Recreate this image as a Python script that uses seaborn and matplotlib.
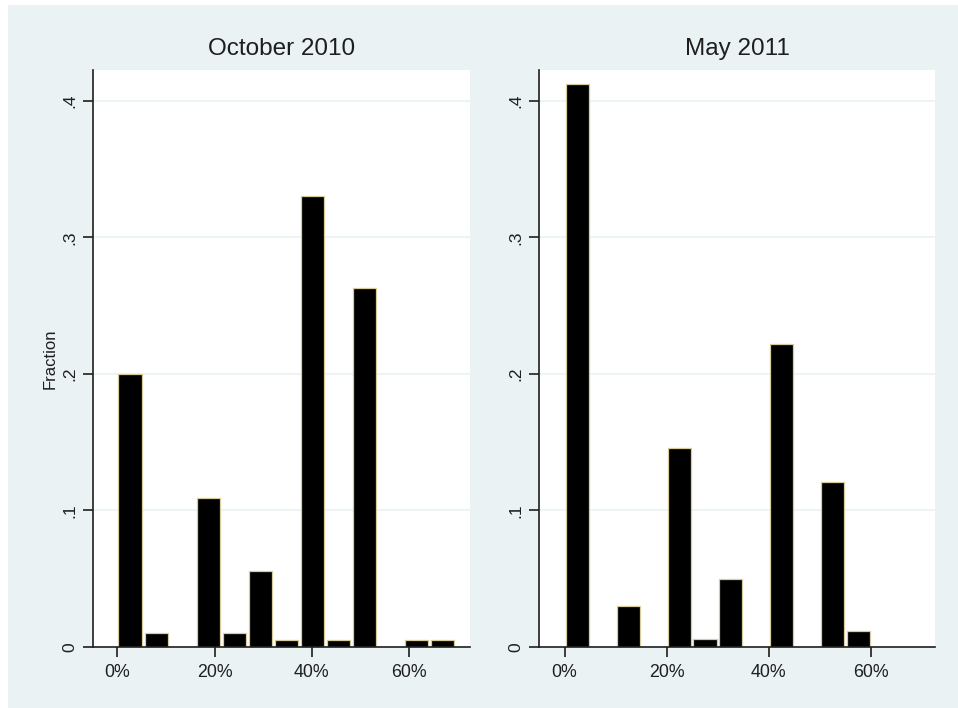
#!/usr/bin/env python3
"""Fraction histograms for October 2010 and May 2011, drawn in a Stata-like style."""

import matplotlib

matplotlib.use("Agg")

import matplotlib.pyplot as plt
import numpy as np
import pandas as pd
import seaborn as sns
from matplotlib.patches import Rectangle
from matplotlib.ticker import FuncFormatter


# October 2010: 13 bins of width 5.35 percentage points starting at 0%
OCT_BIN_WIDTH = 5.35
OCT_FRACTIONS = [0.200, 0.010, 0.0, 0.109, 0.010, 0.056, 0.005,
                 0.330, 0.005, 0.263, 0.0, 0.005, 0.005]

# May 2011: 12 bins of width 5 percentage points starting at 0%
MAY_BIN_WIDTH = 5.0
MAY_FRACTIONS = [0.412, 0.0, 0.030, 0.0, 0.146, 0.006,
                 0.050, 0.0, 0.222, 0.0, 0.1205, 0.012]

PANEL_TITLES = ["October 2010", "May 2011"]
X_TICKS = [0, 20, 40, 60]
X_TICK_LABELS = ["0%", "20%", "40%", "60%"]
Y_TICKS = [0, 0.1, 0.2, 0.3, 0.4]

BG_COLOR = "#EAF2F3"
AXIS_COLOR = "#1f1f1f"
EDGE_COLOR = "#d9cc9c"


def y_label_format(value, _pos):
    if abs(value) < 1e-9:
        return "0"
    return f"{value:.1f}".lstrip("0")


def draw_panel(ax, fractions, bin_width, title, show_ylabel):
    n_bins = len(fractions)
    edges = (np.arange(n_bins + 1) * bin_width).tolist()
    bins_df = pd.DataFrame({
        "center": [edge + bin_width / 2 for edge in edges[:-1]],
        "fraction": fractions,
    })

    sns.histplot(
        data=bins_df,
        x="center",
        weights="fraction",
        bins=edges,
        stat="count",
        shrink=0.91,
        color="black",
        edgecolor=EDGE_COLOR,
        linewidth=0.9,
        alpha=1,
        ax=ax,
    )
    # drop empty bins so they leave no outline on the axis
    for patch in list(ax.patches):
        if patch.get_height() <= 0:
            patch.remove()

    ax.set_xlim(-5, 72.5)
    ax.set_ylim(0, 0.4226)
    ax.set_facecolor("white")

    ax.set_xticks(X_TICKS)
    ax.set_xticklabels(X_TICK_LABELS, fontsize=12.8, color=AXIS_COLOR)
    ax.set_yticks(Y_TICKS)
    ax.yaxis.set_major_formatter(FuncFormatter(y_label_format))
    for label in ax.get_yticklabels():
        label.set_rotation(90)
        label.set_va("center")
        label.set_fontsize(12.5)
        label.set_color(AXIS_COLOR)

    ax.tick_params(axis="both", which="major", direction="out", length=7,
                   width=1.2, color=AXIS_COLOR, bottom=True, left=True)
    ax.tick_params(axis="x", pad=5)
    ax.tick_params(axis="y", pad=4)

    ax.grid(axis="y", color=BG_COLOR, linewidth=1.2)
    ax.grid(axis="x", visible=False)
    ax.set_axisbelow(True)

    for side in ("top", "right"):
        ax.spines[side].set_visible(False)
    for side in ("left", "bottom"):
        ax.spines[side].set_color(AXIS_COLOR)
        ax.spines[side].set_linewidth(1.2)

    ax.set_title(title, fontsize=17.5, color="#1e1e1e", pad=11)
    ax.set_xlabel("")
    if show_ylabel:
        ax.set_ylabel("Fraction", fontsize=12, color="#1e1e1e", labelpad=4)
    else:
        ax.set_ylabel("")


def main():
    sns.set_theme(style="white")
    plt.rcParams["font.family"] = ["Liberation Sans", "DejaVu Sans"]
    plt.rcParams["xtick.bottom"] = True
    plt.rcParams["ytick.left"] = True
    plt.rcParams["xtick.major.size"] = 7
    plt.rcParams["ytick.major.size"] = 7

    fig = plt.figure(figsize=(9.58, 7.08), dpi=100, facecolor="white")
    fig.patches.append(
        Rectangle((8 / 958, 0), 1, 1 - 5 / 708, transform=fig.transFigure,
                  facecolor=BG_COLOR, edgecolor="none", zorder=-10)
    )

    ax_left = fig.add_axes([93 / 958, 61 / 708, 377 / 958, 577 / 708])
    ax_right = fig.add_axes([539 / 958, 61 / 708, 396 / 958, 577 / 708])

    draw_panel(ax_left, OCT_FRACTIONS, OCT_BIN_WIDTH, PANEL_TITLES[0], True)
    draw_panel(ax_right, MAY_FRACTIONS, MAY_BIN_WIDTH, PANEL_TITLES[1], False)

    fig.savefig("out.png", dpi=100, facecolor=fig.get_facecolor())
    plt.close(fig)


if __name__ == "__main__":
    main()
